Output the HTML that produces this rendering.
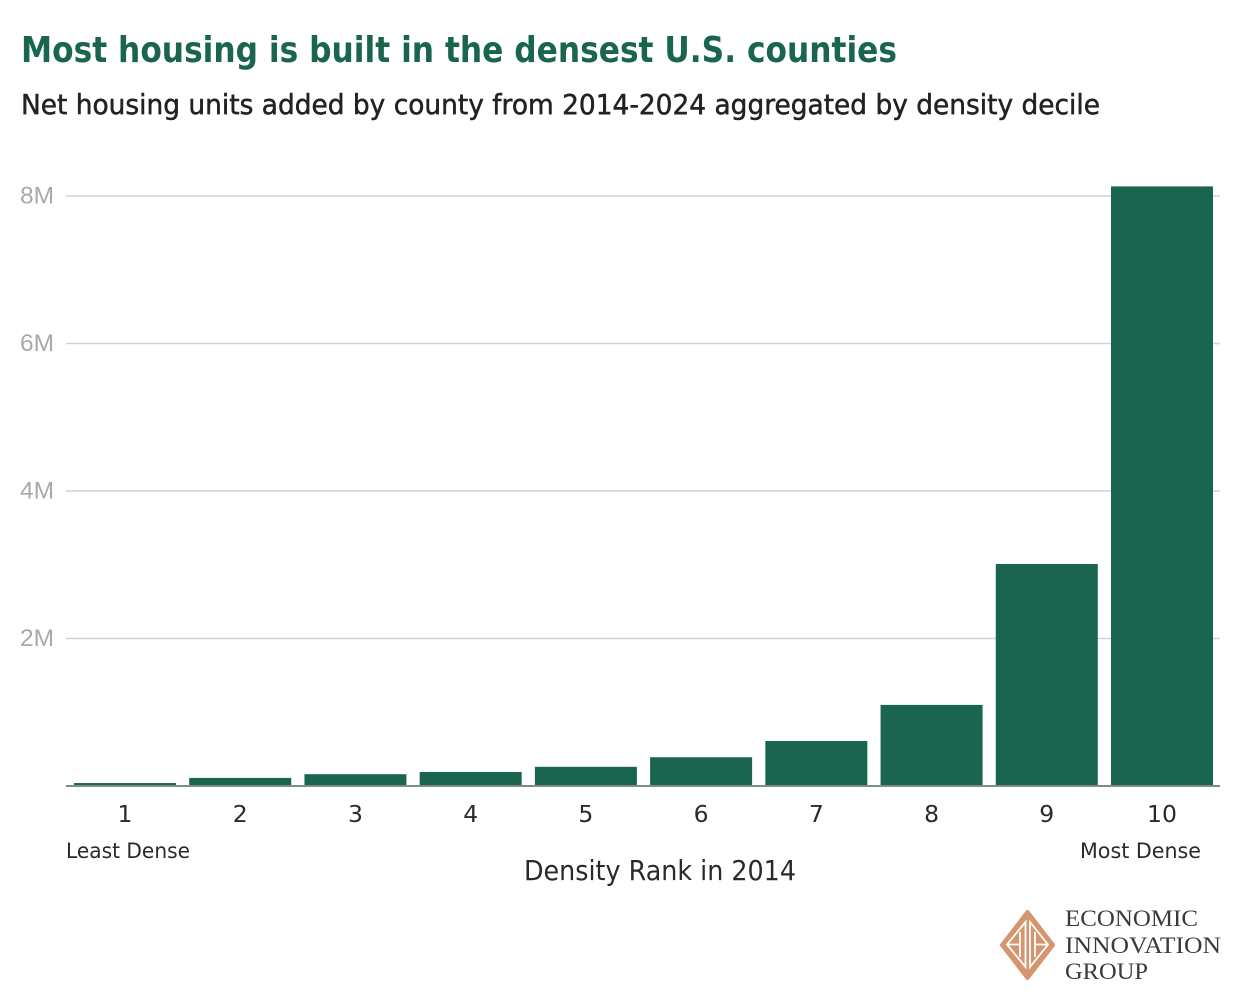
<!DOCTYPE html>
<html lang="en">
<head>
<meta charset="utf-8">
<title>Most housing is built in the densest U.S. counties</title>
<style>
html,body{margin:0;padding:0;background:#fff;width:1240px;height:1000px;overflow:hidden}
svg{display:block}
text{font-family:"DejaVu Sans","Liberation Sans",sans-serif}
</style>
</head>
<body>
<svg id="chart" xmlns="http://www.w3.org/2000/svg" width="1240" height="1000" viewBox="0 0 1240 1000">
  <rect width="1240" height="1000" fill="#ffffff"/>
  <text x="21" y="62" font-size="36" font-weight="700" fill="#1a654f" textLength="876" lengthAdjust="spacingAndGlyphs">Most housing is built in the densest U.S. counties</text>
  <text x="21" y="114" font-size="27.5" font-weight="400" fill="#222222" stroke="#222222" stroke-width="0.5" textLength="1079" lengthAdjust="spacingAndGlyphs">Net housing units added by county from 2014-2024 aggregated by density decile</text>
  <g id="grid"></g>
  <g id="yticks"></g>
  <g id="bars"></g>
  <rect x="66" y="785" width="1154" height="2" fill="#7f8b90"/>
  <g id="xticks"></g>
  <text x="66" y="858" font-size="21.5" fill="#2a2a2a" textLength="124" lengthAdjust="spacingAndGlyphs">Least Dense</text>
  <text x="1080" y="858" font-size="21.5" fill="#2a2a2a" textLength="121" lengthAdjust="spacingAndGlyphs">Most Dense</text>
  <text x="524" y="880" font-size="28" fill="#2a2a2a" textLength="272" lengthAdjust="spacingAndGlyphs">Density Rank in 2014</text>
  <g>
    <g>
      <path d="M1027.5 912 L1053 945 L1027.5 978 L1002 945 Z" fill="#d5956f" stroke="#d5956f" stroke-width="4" stroke-linejoin="round"/>
      <path d="M1025.5 922 L1007 944.5 L1025.5 967 Z M1030 922 L1048 944.5 L1030 967 Z M1007 944.5 H1020 V932 M1020 944.5 V957 M1048 944.5 H1035 V932 M1035 944.5 V957" fill="none" stroke="#ffffff" stroke-width="1.8" stroke-linejoin="miter"/>
    </g>
    <text x="1065" y="926" font-size="23" fill="#3a3a3a" textLength="133" lengthAdjust="spacingAndGlyphs" style="font-family:'Liberation Serif',serif">ECONOMIC</text>
    <text x="1065" y="953" font-size="23" fill="#3a3a3a" textLength="156" lengthAdjust="spacingAndGlyphs" style="font-family:'Liberation Serif',serif">INNOVATION</text>
    <text x="1065" y="979" font-size="23" fill="#3a3a3a" textLength="83" lengthAdjust="spacingAndGlyphs" style="font-family:'Liberation Serif',serif">GROUP</text>
  </g>
</svg>
<script>
const categories = ["1","2","3","4","5","6","7","8","9","10"];
const housingUnits = [0.04,0.11,0.16,0.19,0.26,0.39,0.61,1.1,3.01,8.13];
const yTickValues = [2,4,6,8];
const yTickLabels = ["2M","4M","6M","8M"];

const NS = "http://www.w3.org/2000/svg";
const yScale = v => 786 - v * 73.75;
const xBand = i => 74 + i * (1111 - 74) / (categories.length - 1);
const barWidth = 102;

const make = (parent, tag, attrs) => {
  const el = document.createElementNS(NS, tag);
  for (const k in attrs) el.setAttribute(k, attrs[k]);
  parent.appendChild(el);
  return el;
};

const grid = document.getElementById("grid");
const yticks = document.getElementById("yticks");
yTickValues.forEach((v, i) => {
  const line = make(grid, "line", {x1: 66, x2: 1220, y1: yScale(v), y2: yScale(v), stroke: "#d2d2d2", "stroke-width": 1.6});
  
  
  const t = make(yticks, "text", {x: 54, y: yScale(v) + 7.5, "text-anchor": "end", "font-size": 24.5, fill: "#a9a9a9"});
  
  
  t.style.fontFamily = '"Liberation Sans",sans-serif';
  t.textContent = yTickLabels[i];
});

const bars = document.getElementById("bars");
const xticks = document.getElementById("xticks");
categories.forEach((c, i) => {
  const y = yScale(housingUnits[i]);
  const r = make(bars, "rect", {x: xBand(i), y: y, width: barWidth, height: 786 - y, fill: "#1a654f"});
  
  
  const t = make(xticks, "text", {x: xBand(i) + barWidth / 2, y: 822, "text-anchor": "middle", "font-size": 23.5, fill: "#2a2a2a"});
  
  
  t.textContent = c;
});
</script>
</body>
</html>
